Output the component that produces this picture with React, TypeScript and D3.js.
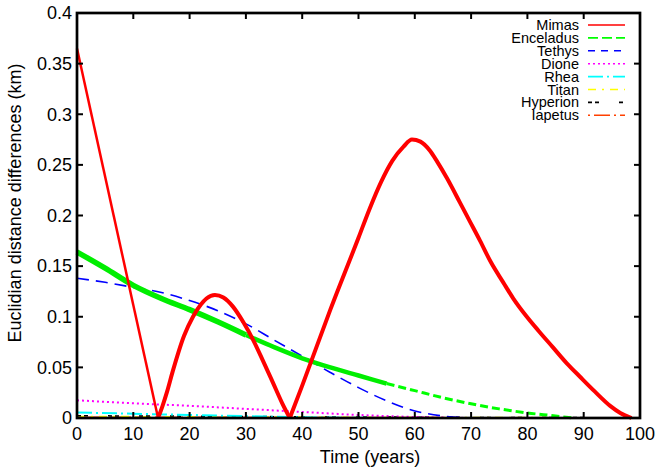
import React from "react";
import * as d3 from "d3";

const W = 659;
const H = 467;
const M = { left: 77, right: 640, top: 13, bottom: 418 };

const xTicks = [0, 10, 20, 30, 40, 50, 60, 70, 80, 90, 100];
const yTicks = [0, 0.05, 0.1, 0.15, 0.2, 0.25, 0.3, 0.35, 0.4];
const yTickLabels = ["0", "0.05", "0.1", "0.15", "0.2", "0.25", "0.3", "0.35", "0.4"];

// Mimas
const mimasT = [0, 14.4, 15.2, 16, 17, 19, 20.6, 22, 23, 24.5, 26, 27.7, 29.5, 31.3, 33, 34.8, 36.5, 37.8, 40, 45, 50, 52, 54, 56, 58, 59.5, 61, 62.7, 64, 65.7, 68, 69.8, 71.6, 73.5, 75.7, 77.5, 79.9, 82, 84.5, 87, 89.3, 92, 94.7, 96.5, 98.5];
const mimasV = [0.365, 0, 0.012, 0.026, 0.046, 0.081, 0.1, 0.112, 0.118, 0.1215, 0.119, 0.11, 0.095, 0.077, 0.057, 0.035, 0.014, 0, 0.032, 0.107, 0.178, 0.207, 0.233, 0.254, 0.268, 0.275, 0.273, 0.264, 0.253, 0.237, 0.213, 0.194, 0.175, 0.154, 0.134, 0.118, 0.1, 0.086, 0.07, 0.054, 0.041, 0.026, 0.012, 0.005, 0];

// Enceladus
const encT = [0, 5, 10, 15, 20, 25, 30, 35, 40, 45, 50, 55, 60, 65, 70, 75, 80, 85, 88];
const encV = [0.164, 0.148, 0.131, 0.118, 0.107, 0.095, 0.082, 0.07, 0.059, 0.05, 0.042, 0.034, 0.027, 0.02, 0.014, 0.009, 0.005, 0.002, 0];

// Tethys
const tetT = [0, 5, 10, 15, 20, 25, 30, 35, 40, 45, 50, 55, 60, 65, 70];
const tetV = [0.138, 0.134, 0.129, 0.124, 0.116, 0.106, 0.093, 0.077, 0.061, 0.045, 0.03, 0.017, 0.007, 0.002, 0];

// Dione
const dioT = [0, 10, 20, 30, 40, 50, 60, 70];
const dioV = [0.0175, 0.0145, 0.012, 0.009, 0.006, 0.003, 0.001, 0];

// Rhea
const rheT = [0, 10, 20, 30, 40, 50, 60];
const rheV = [0.0055, 0.0042, 0.003, 0.0018, 0.0008, 0.0002, 0];

// Titan
const titT = [0, 20, 40, 60, 80, 100];
const titV = [0.0015, 0.0012, 0.0009, 0.0006, 0.0004, 0.0003];

// Hyperion
const hypT = [0, 20, 40, 60, 80, 100];
const hypV = [0.0022, 0.0018, 0.0012, 0.0008, 0.0005, 0.0003];

// Iapetus
const iapT = [0, 20, 40, 60, 80, 100];
const iapV = [0.0008, 0.0007, 0.0005, 0.0004, 0.0003, 0.0002];

const legendNames = ["Mimas", "Enceladus", "Tethys", "Dione", "Rhea", "Titan", "Hyperion", "Iapetus"];
const legendColors = ["#ff0000", "#00ff00", "#0000ff", "#ff00ff", "#00ffff", "#ffff00", "#000000", "#ff4000"];
const legendDash = ["", "10,4", "7,6", "2,3", "15,4,2,4", "8,6,2,6", "4,3,4,20", "2,4,16,4"];

const zip = (t: number[], v: number[]) => t.map((d, i) => [d, v[i]] as [number, number]);

export default function App() {
  const x = d3.scaleLinear().domain([0, 100]).range([M.left, M.right]);
  const y = d3.scaleLinear().domain([0, 0.4]).range([M.bottom, M.top]);
  const line = d3
    .line<[number, number]>()
    .x((d) => x(d[0]))
    .y((d) => y(d[1]));
  const smooth = d3
    .line<[number, number]>()
    .x((d) => x(d[0]))
    .y((d) => y(d[1]))
    .curve(d3.curveMonotoneX);

  const mimas = zip(mimasT, mimasV);
  const enc = zip(encT, encV);
  const font = "'Liberation Sans', Arial, Helvetica, sans-serif";

  // split Mimas at its zero crossings
  const zeros = mimas.map((d, i) => (d[1] === 0 ? i : -1)).filter((i) => i >= 0);
  const seg1 = mimas.slice(0, zeros[0] + 1);
  const seg2 = mimas.slice(zeros[0], zeros[1] + 1);
  const seg3 = mimas.slice(zeros[1]);

  return (
    <svg
      width={W}
      height={H}
      style={{ position: "absolute", left: 0, top: 0, background: "#fff" }}
      fontFamily={font}
    >
      <rect x={0} y={0} width={W} height={H} fill="#fff" />
      {/* near-zero series */}
      <path d={smooth(zip(iapT, iapV)) || ""} fill="none" stroke="#ff4000" strokeWidth={1.5} strokeDasharray="2,4,16,4" />
      <path d={smooth(zip(titT, titV)) || ""} fill="none" stroke="#ffff00" strokeWidth={1.5} strokeDasharray="8,6,2,6" />
      <path d={smooth(zip(hypT, hypV)) || ""} fill="none" stroke="#000000" strokeWidth={1.5} strokeDasharray="4,3,4,20" />
      <path d={smooth(zip(rheT, rheV)) || ""} fill="none" stroke="#00ffff" strokeWidth={2} strokeDasharray="15,4,2,4" />
      <path d={smooth(zip(dioT, dioV)) || ""} fill="none" stroke="#ff00ff" strokeWidth={2} strokeDasharray="2,3" />
      {/* Tethys */}
      <path d={smooth(zip(tetT, tetV)) || ""} fill="none" stroke="#0000ff" strokeWidth={1.6} strokeDasharray="12,7" />
      {/* Enceladus: noisy band then dashed */}
      <path d={smooth(enc.filter((d) => d[0] <= 30)) || ""} fill="none" stroke="#00ee00" strokeWidth={5.5} />
      <path d={smooth(enc.filter((d) => d[0] >= 30 && d[0] <= 55)) || ""} fill="none" stroke="#00ee00" strokeWidth={4.5} />
      <path d={smooth(enc.filter((d) => d[0] >= 55)) || ""} fill="none" stroke="#00ff00" strokeWidth={3} strokeDasharray="8,4" />
      {/* Mimas */}
      <path d={line(seg1) || ""} fill="none" stroke="#ff0000" strokeWidth={2.5} />
      <path d={smooth(seg2) || ""} fill="none" stroke="#ff0000" strokeWidth={4} strokeLinejoin="round" />
      <path d={smooth(seg3) || ""} fill="none" stroke="#ff0000" strokeWidth={4} strokeLinejoin="round" />

      {/* frame */}
      <rect x={M.left} y={M.top} width={M.right - M.left} height={M.bottom - M.top} fill="none" stroke="#000" strokeWidth={2.7} />
      {/* ticks */}
      {xTicks.map((t) => (
        <g key={"xt" + t}>
          <line x1={x(t)} x2={x(t)} y1={M.bottom} y2={M.bottom - 6} stroke="#000" strokeWidth={2} />
          <line x1={x(t)} x2={x(t)} y1={M.top} y2={M.top + 6} stroke="#000" strokeWidth={2} />
          <text x={x(t)} y={440} textAnchor="middle" fontSize={18} fill="#000">
            {t}
          </text>
        </g>
      ))}
      {yTicks.map((t, i) => (
        <g key={"yt" + t}>
          <line x1={M.left} x2={M.left + 6} y1={y(t)} y2={y(t)} stroke="#000" strokeWidth={2} />
          <line x1={M.right} x2={M.right - 6} y1={y(t)} y2={y(t)} stroke="#000" strokeWidth={2} />
          <text x={72} y={y(t)} dy="0.35em" textAnchor="end" fontSize={18} fill="#000">
            {yTickLabels[i]}
          </text>
        </g>
      ))}
      <text x={370} y={463} textAnchor="middle" fontSize={18} fill="#000">
        Time (years)
      </text>
      <text transform={`translate(21,203) rotate(-90)`} textAnchor="middle" fontSize={18} fill="#000">
        Euclidian distance differences (km)
      </text>

      {/* legend */}
      {legendNames.map((n, i) => {
        const cy = 25 + i * 12.9;
        return (
          <g key={n}>
            <text x={579} y={cy} dy="0.35em" textAnchor="end" fontSize={14.5} fill="#000">
              {n}
            </text>
            <line x1={588} x2={625} y1={cy} y2={cy} stroke={legendColors[i]} strokeWidth={1.6} strokeDasharray={legendDash[i] || undefined} />
          </g>
        );
      })}
    </svg>
  );
}
